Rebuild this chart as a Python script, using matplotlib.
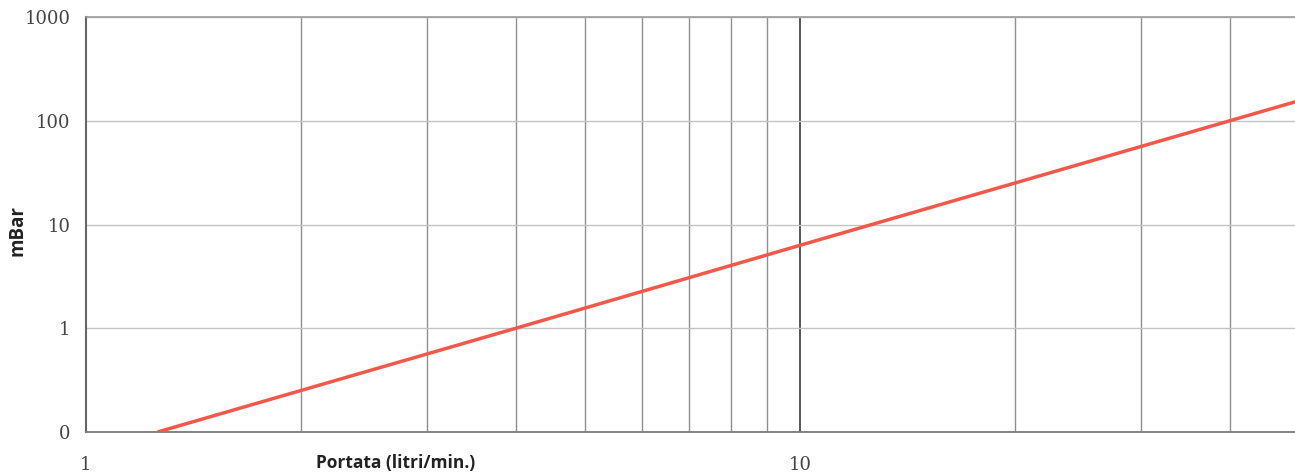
import matplotlib.pyplot as plt
from matplotlib.ticker import FixedLocator, LogLocator, NullFormatter

# readings from the chart (log-log)
portata = [1.26, 4, 10, 40, 50]
mbar = [0.1, 1, 6.3, 100, 156]

y_ticks = [0.1, 1, 10, 100, 1000]
y_tick_labels = ["0", "1", "10", "100", "1000"]
x_ticks = [1, 10]
x_tick_labels = ["1", "10"]

line_color = "#f0584a"
tick_font = "DejaVu Serif"
label_font = "Open Sans"

fig = plt.figure(figsize=(12.95, 4.73), dpi=100)
ax = fig.add_axes([86 / 1295, 41 / 473, 1 - 86 / 1295, 415 / 473])

ax.set_xscale("log")
ax.set_yscale("log")
ax.set_xlim(1, 49.35)
ax.set_ylim(0.1, 1000)

ax.plot(portata, mbar, color=line_color, linewidth=2.5, solid_capstyle="butt", zorder=3)

# ticks and labels
ax.xaxis.set_major_locator(FixedLocator(x_ticks))
ax.set_xticklabels(x_tick_labels)
ax.xaxis.set_minor_locator(LogLocator(base=10, subs=range(2, 10)))
ax.xaxis.set_minor_formatter(NullFormatter())
ax.yaxis.set_major_locator(FixedLocator(y_ticks))
ax.set_yticklabels(y_tick_labels)
ax.yaxis.set_minor_locator(FixedLocator([]))

ax.tick_params(axis="both", which="both", length=0, colors="#444444")
ax.tick_params(axis="x", pad=17)
ax.tick_params(axis="y", pad=11)
for lbl in ax.get_xticklabels() + ax.get_yticklabels():
    lbl.set_fontfamily(tick_font)
    lbl.set_fontsize(13)

# grid: vertical lines darker than horizontal ones
ax.grid(which="major", axis="x", color="#555555", linewidth=1.4)
ax.grid(which="minor", axis="x", color="#8f8f8f", linewidth=1.0)
ax.grid(which="major", axis="y", color="#c4c4c4", linewidth=1.0)
ax.set_axisbelow(True)

ax.spines["right"].set_visible(False)
ax.spines["top"].set_color("#9a9a9a")
ax.spines["top"].set_linewidth(1.2)
ax.spines["left"].set_color("#666666")
ax.spines["left"].set_linewidth(1.5)
ax.spines["bottom"].set_color("#7a7a7a")
ax.spines["bottom"].set_linewidth(1.3)

ax.set_xlabel("Portata (litri/min.)", fontfamily=label_font, fontweight="bold",
              fontsize=12.5, color="#222222")
ax.xaxis.set_label_coords((396 - 86) / 1209, -(463 - 432) / 415)
ax.xaxis.label.set_verticalalignment("center")

ax.set_ylabel("mBar", fontfamily=label_font, fontweight="bold",
              fontsize=13.5, color="#222222")
ax.yaxis.set_label_coords(-(86 - 17) / 1209, (473 - 230 - 41) / 415)
ax.yaxis.label.set_verticalalignment("center")

fig.savefig("out.png", dpi=100)
